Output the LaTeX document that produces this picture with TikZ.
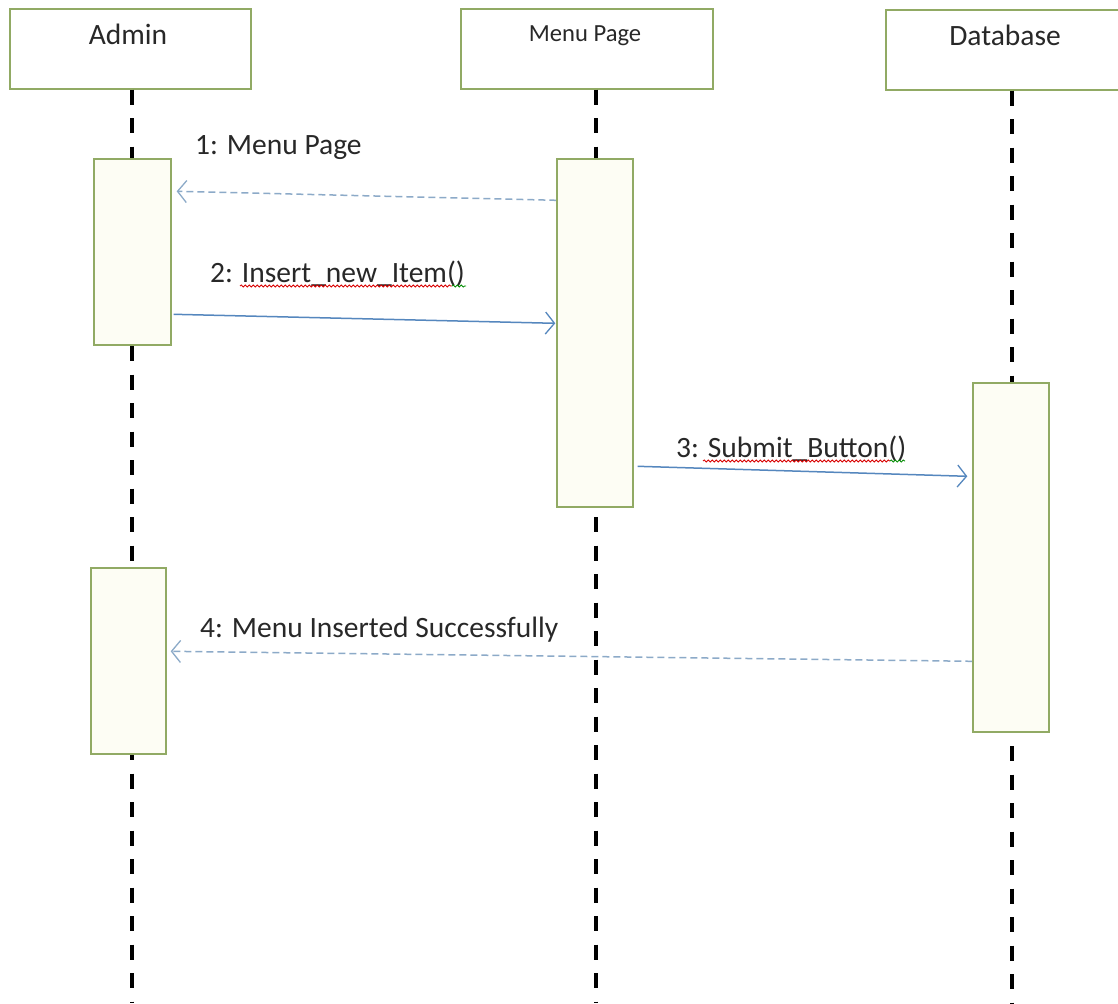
\documentclass[tikz,border=0pt]{standalone}
\usepackage{fontspec}
\setmainfont{Carlito}
\usetikzlibrary{arrows.meta,calc,decorations.pathmorphing}
\definecolor{boxgreen}{RGB}{145,170,100}
\definecolor{actfill}{RGB}{253,253,244}
\definecolor{solidblue}{RGB}{85,135,190}
\definecolor{dashblue}{RGB}{140,170,200}
\definecolor{txt}{RGB}{40,40,40}
\tikzset{
  headbox/.style={draw=boxgreen,line width=1.4pt,fill=white,inner sep=0pt,minimum width=252pt,minimum height=80pt},
  actbox/.style={draw=boxgreen,line width=1.4pt,fill=actfill,inner sep=0pt},
  headtxt/.style={text=txt,inner sep=0pt,font=\fontsize{29.5}{32}\selectfont},
  msgtxt/.style={text=txt,inner sep=0pt,anchor=base west,font=\fontsize{29.5}{32}\selectfont},
  lifeline/.style={line width=3.6pt,black,dash pattern=on 15pt off 13.5pt},
  syncmsg/.style={solidblue,line width=1.5pt,-{Straight Barb[length=9pt,width=22pt,line width=1.3pt]}},
  retmsg/.style={dashblue,line width=1.5pt,dash pattern=on 7pt off 4pt,-{Straight Barb[length=9pt,width=22pt,line width=1.3pt]}},
  wavy/.style={red!85!black,line width=0.8pt,decorate,decoration={snake,amplitude=1.1pt,segment length=4pt}},
  wavyg/.style={green!55!black,line width=0.8pt,decorate,decoration={snake,amplitude=1.1pt,segment length=4pt}}
}
\begin{document}
\begin{tikzpicture}[x=1pt,y=-1pt]
\clip (0,0) rectangle (1118,1003);
\fill[white] (0,0) rectangle (1118,1003);

% header boxes
\node[headbox,minimum width=241pt] (admin) at (130.5,49) {};
\node[headbox] (menu) at (587,49) {};
\node[headbox] (db) at (1012,50) {};
\node[headtxt,anchor=base] (admint) at (128,45) {Admin};
\node[headtxt,anchor=base,font=\fontsize{24.6}{27}\selectfont] (menut) at (585,42) {Menu Page};
\node[headtxt,anchor=base] (dbt) at (1005,46) {Database};

% lifeline end points
\coordinate (adminend) at (132,1003);
\coordinate (menuend) at (596,1003);
\coordinate (dbend) at (1012,1003);

% activation boxes (named, drawn later on top of lifelines)
\path (132.5,252) node[actbox,minimum width=77pt,minimum height=186pt] (act1) {};
\path (595,333) node[actbox,minimum width=76pt,minimum height=348pt] (mact) {};
\path (1011,557.5) node[actbox,minimum width=76pt,minimum height=349pt] (dbact) {};
\path (128.5,661) node[actbox,minimum width=75pt,minimum height=186pt] (act2) {};

% messages
\draw[retmsg] ($(mact.north west)+(0,42)$) coordinate (m1s) -- ($(act1.north east)+(5,33)$) coordinate (m1e);
\draw[syncmsg] ($(act1.north east)+(2,156)$) coordinate (m2s) -- ($(mact.north west)+(-1,165)$) coordinate (m2e);
\draw[syncmsg] ($(mact.north east)+(4,308)$) coordinate (m3s) -- ($(dbact.north west)+(-5,94)$) coordinate (m3e);
\draw[retmsg] ($(dbact.north west)+(0,279)$) coordinate (m4s) -- ($(act2.north east)+(4,84)$) coordinate (m4e);

% lifelines
\draw[lifeline] (admin.south -| adminend) -- (adminend);
\draw[lifeline] (menu.south -| menuend) -- (menuend);
\draw[lifeline] (db.south -| dbend) -- (dbend);

% activation boxes on top
\node[actbox,minimum width=77pt,minimum height=186pt] at (act1.center) {};
\node[actbox,minimum width=76pt,minimum height=348pt] at (mact.center) {};
\node[actbox,minimum width=76pt,minimum height=349pt] at (dbact.center) {};
\node[actbox,minimum width=75pt,minimum height=186pt] at (act2.center) {};

% labels
\node[msgtxt] (l1) at (195,155) {1: Menu Page};
\node[msgtxt] (l2) at (210,282) {2: Insert\_new\_Item()};
\node[msgtxt] (l3) at (676,457) {3: Submit\_Button()};
\node[msgtxt] (l4) at (200,637) {4: Menu Inserted Successfully};

% spell-check underlines
\draw[wavy] (240,286) -- (452,286);
\draw[wavyg] (452,286) -- (466,286);
\draw[wavy] (703,461) -- (890,461);
\draw[wavyg] (890,461) -- (905,461);
\end{tikzpicture}
\end{document}
